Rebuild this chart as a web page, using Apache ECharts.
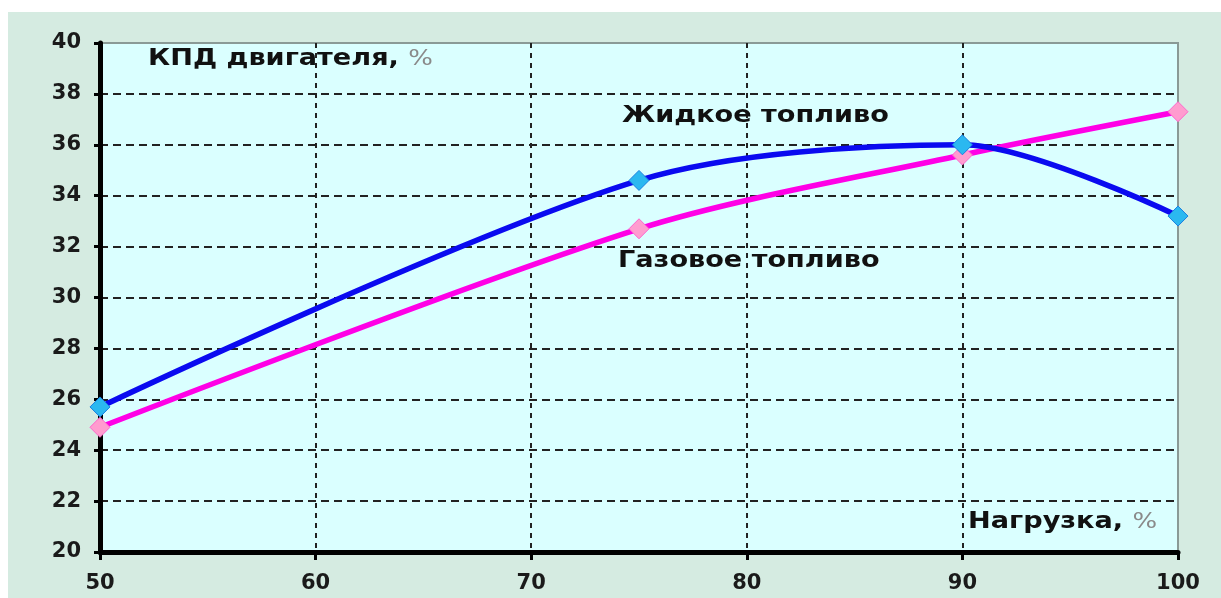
<!DOCTYPE html>
<html>
<head>
<meta charset="utf-8">
<script src="https://cdn.jsdelivr.net/npm/echarts@6/dist/echarts.min.js"></script>
<style>
  html, body { margin: 0; padding: 0; background: #ffffff; }
  #chart { width: 1221px; height: 598px; }
</style>
</head>
<body>
<div id="chart"></div>
<script>
// Engine load (%) and efficiency (%) for the two fuel types
const loads = [50, 75, 90, 100];
const liquidFuel = [25.7, 34.6, 36.0, 33.2];
const gasFuel = [24.9, 32.7, 35.6, 37.3];
const xTicks = [50, 60, 70, 80, 90, 100];
const yTicks = [20, 22, 24, 26, 28, 30, 32, 34, 36, 38, 40];

const FONT = 'DejaVu Sans';

const chart = echarts.init(document.getElementById('chart'), null, { renderer: 'canvas' });

const pairs = (ys) => loads.map((x, i) => [x, ys[i]]);

// Wide bold caption; a trailing "%" is printed in grey
const caption = (text, left, top) => ({
  type: 'text', left, top, z: 100, scaleX: 1.18,
  style: {
    text: text.replace(/%$/, '{p|%}'),
    fontFamily: FONT, fontWeight: 'bold', fontSize: 23, fill: '#111',
    rich: { p: { fontFamily: FONT, fontWeight: 'normal', fontSize: 22, fill: '#8a8a8a' } }
  }
});

chart.setOption({
  animation: false,
  backgroundColor: '#ffffff',
  graphic: [
    { type: 'rect', z: -10, shape: { x: 8, y: 12, width: 1221, height: 598 }, style: { fill: '#d5ebe1' } },
    caption('КПД двигателя, %', 148, 48),
    caption('Жидкое топливо', 622, 105),
    caption('Газовое топливо', 618, 250),
    caption('Нагрузка, %', 968, 511)
  ],
  grid: {
    left: 100, top: 43, right: 43, bottom: 46,
    show: true, backgroundColor: '#daffff', borderColor: '#8a9a96', borderWidth: 2
  },
  xAxis: {
    type: 'value', min: 50, max: 100, interval: 10,
    axisLine: { show: true, onZero: false, lineStyle: { color: '#000', width: 5 } },
    axisTick: { show: true, length: 8, lineStyle: { color: '#000', width: 3 } },
    axisLabel: {
      margin: 21, color: '#1a1a1a', fontFamily: FONT, fontWeight: 'bold', fontSize: 21,
      formatter: (v) => xTicks.includes(v) ? String(v) : ''
    },
    splitLine: { show: true, showMinLine: false, showMaxLine: false,
      lineStyle: { color: '#222', width: 2, type: [5, 5] } }
  },
  yAxis: {
    type: 'value', min: 20, max: 40, interval: 2,
    axisLine: { show: true, onZero: false, lineStyle: { color: '#000', width: 5 } },
    axisTick: { show: true, length: 6, lineStyle: { color: '#000', width: 3 } },
    axisLabel: {
      margin: 19, color: '#1a1a1a', fontFamily: FONT, fontWeight: 'bold', fontSize: 21,
      formatter: (v) => yTicks.includes(v) ? String(v) : ''
    },
    splitLine: { show: true, showMinLine: false, showMaxLine: false,
      lineStyle: { color: '#222', width: 2, type: [8, 5] } }
  },
  series: [
    {
      name: 'Газовое топливо', type: 'line', smooth: 0.3, data: pairs(gasFuel),
      symbol: 'diamond', symbolSize: 20,
      lineStyle: { color: '#ff00e6', width: 5.5 },
      itemStyle: { color: '#ff9ccf', borderColor: '#ff66cc', borderWidth: 1 },
      z: 3
    },
    {
      name: 'Жидкое топливо', type: 'line', smooth: 0.3, data: pairs(liquidFuel),
      symbol: 'diamond', symbolSize: 20,
      lineStyle: { color: '#0a0af0', width: 5.5 },
      itemStyle: { color: '#2bb8f0', borderColor: '#1a7fe0', borderWidth: 1 },
      z: 4
    }
  ]
});
</script>
</body>
</html>
